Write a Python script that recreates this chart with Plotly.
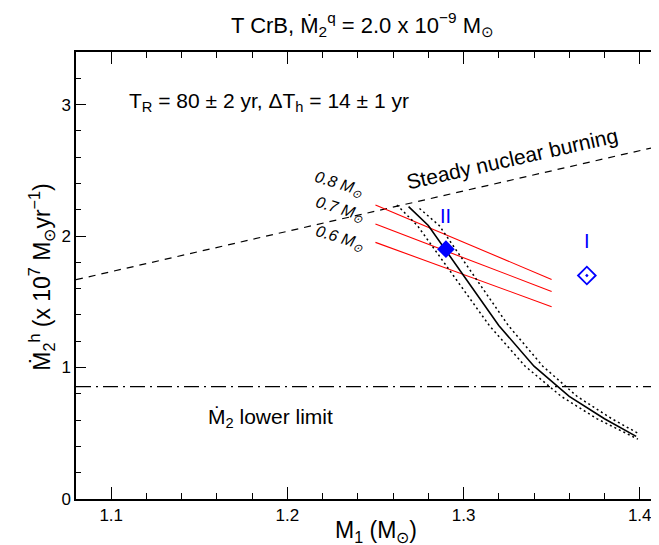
import plotly.graph_objects as go

# ---- data ----
steady_m1 = [1.08, 1.42]
steady_mdot = [1.668, 2.711]

lower_limit_m1 = [1.08, 1.42]
lower_limit_mdot = [0.855, 0.855]

fit_m1 = [1.2688, 1.28, 1.30, 1.32, 1.34, 1.36, 1.38, 1.398]
fit_mdot = [2.224, 2.08, 1.70, 1.32, 1.01, 0.78, 0.61, 0.476]

lo_m1 = [1.2622, 1.2738, 1.2942, 1.3146, 1.3350, 1.3555, 1.3758, 1.399]
lo_mdot = [2.236, 2.08, 1.70, 1.32, 1.01, 0.78, 0.61, 0.455]

hi_m1 = [1.275, 1.2862, 1.3058, 1.3254, 1.345, 1.3645, 1.3842, 1.399]
hi_mdot = [2.21, 2.08, 1.70, 1.32, 1.01, 0.78, 0.61, 0.50]

red_m1 = [1.25, 1.35]
red_08 = [2.236, 1.67]
red_07 = [2.091, 1.579]
red_06 = [1.952, 1.463]

sol2_m1 = [1.29]
sol2_mdot = [1.90]
sol1_m1 = [1.37]
sol1_mdot = [1.70]

xtick_vals = [1.1, 1.2, 1.3, 1.4]
ytick_vals = [0, 1, 2, 3]

FONT = "Liberation Sans, Arial, Helvetica, sans-serif"

fig = go.Figure()

fig.add_trace(go.Scatter(x=steady_m1, y=steady_mdot, mode="lines",
                         line=dict(color="black", width=1.2, dash="7px,6px"), showlegend=False))
fig.add_trace(go.Scatter(x=lower_limit_m1, y=lower_limit_mdot, mode="lines",
                         line=dict(color="black", width=1.3, dash="15px,5px,2px,5px"), showlegend=False))
for ys in (red_08, red_07, red_06):
    fig.add_trace(go.Scatter(x=red_m1, y=ys, mode="lines",
                             line=dict(color="#ff0000", width=1.1), showlegend=False))
fig.add_trace(go.Scatter(x=lo_m1, y=lo_mdot, mode="lines",
                         line=dict(color="black", width=1.5, dash="2px,3px"), showlegend=False))
fig.add_trace(go.Scatter(x=hi_m1, y=hi_mdot, mode="lines",
                         line=dict(color="black", width=1.5, dash="2px,3px"), showlegend=False))
fig.add_trace(go.Scatter(x=fit_m1, y=fit_mdot, mode="lines",
                         line=dict(color="black", width=1.6), showlegend=False))
fig.add_trace(go.Scatter(x=sol2_m1, y=sol2_mdot, mode="markers",
                         marker=dict(symbol="diamond", size=13.6, color="#0000ff",
                                     line=dict(width=0)), showlegend=False))
fig.add_trace(go.Scatter(x=sol1_m1, y=sol1_mdot, mode="markers",
                         marker=dict(symbol="diamond-open-dot", size=13.6, color="#0000ff",
                                     line=dict(width=1.8, color="#0000ff")), showlegend=False))

ann = []
def A(x, y, text, size=15, angle=0, color="black", xanchor="center", italic=False,
      xref="x", yref="y"):
    t = f"<i>{text}</i>" if italic else text
    ann.append(dict(x=x, y=y, xref=xref, yref=yref, text=t, showarrow=False, textangle=angle,
                    font=dict(family=FONT, size=size, color=color), xanchor=xanchor,
                    yanchor="middle", borderpad=0))

A(1.2295, 2.396, "0.8 M<sub>⊙</sub>", size=16, angle=17, italic=True)
A(1.2299, 2.205, "0.7 M<sub>⊙</sub>", size=16, angle=17, italic=True)
A(1.2299, 1.985, "0.6 M<sub>⊙</sub>", size=16, angle=17, italic=True)
A(1.3275, 2.593, "Steady nuclear burning", size=21, angle=-12.7)
A(1.29, 2.15, "II", size=20, color="#0000ff")
A(1.37, 1.96, "I", size=20, color="#0000ff")
A(1.1095, 3.02, "T<sub>R</sub> = 80 ± 2 yr, ΔT<sub>h</sub> = 14 ± 1 yr", size=21, xanchor="left")
A(1.1543, 0.615, "Ṁ<sub>2</sub> lower limit", size=21, xanchor="left")
# axis titles
A(-0.0592, 0.495, "Ṁ<sub>2</sub><sup>h</sup> (x 10<sup>7</sup> M<sub>⊙</sub>yr<sup>−1</sup>)",
  size=23, angle=-90, xref="paper", yref="paper")
A(0.5076, -0.0726, "M<sub>1</sub> (M<sub>⊙</sub>)", size=23, xref="paper", yref="paper")

fig.update_layout(
    width=659, height=545,
    margin=dict(l=68, r=0, t=44, b=53.5),
    paper_bgcolor="white", plot_bgcolor="white",
    font=dict(family=FONT, size=17, color="black"),
    title=dict(text="T CrB, Ṁ<sub>2</sub><sup>q</sup> = 2.0 x 10<sup>−9</sup> M<sub>⊙</sub>",
               x=0.538, xanchor="center", y=0.969, yanchor="middle",
               font=dict(family=FONT, size=22)),
    annotations=ann,
    xaxis=dict(range=[1.08, 1.4155], tickvals=xtick_vals, ticktext=[str(v) for v in xtick_vals],
               ticks="inside", ticklen=12, tickwidth=1, tickcolor="black",
               showline=True, linecolor="black", linewidth=1.5, mirror="ticks",
               showgrid=False, zeroline=False,
               minor=dict(ticks="inside", ticklen=6, dtick=0.02, tick0=1.0, tickcolor="black", showgrid=False),
               tickfont=dict(family=FONT, size=17)),
    yaxis=dict(range=[0, 3.4], tickvals=ytick_vals, ticktext=[str(v) for v in ytick_vals],
               ticks="inside", ticklen=10, tickwidth=1, tickcolor="black",
               showline=True, linecolor="black", linewidth=1.5, mirror=False,
               showgrid=False, zeroline=False,
               minor=dict(ticks="inside", ticklen=5, dtick=0.2, tick0=0, tickcolor="black", showgrid=False),
               tickfont=dict(family=FONT, size=17)),
)

fig.write_html("out.html")
